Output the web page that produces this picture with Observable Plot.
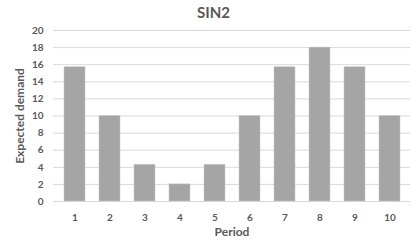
<!DOCTYPE html>
<html><head><meta charset="utf-8">
<script src="https://cdn.jsdelivr.net/npm/d3@7"></script>
<script src="https://cdn.jsdelivr.net/npm/@observablehq/plot@0.6"></script>
<style>
body{margin:0;background:#fff;font-family:Lato,sans-serif;}
#title{height:22px;line-height:24px;font-size:15px;font-weight:bold;color:#595959;text-align:center;width:415px;padding-left:12px;box-sizing:border-box;}
</style></head>
<body>
<div id="title">SIN2</div>
<div id="chart"></div>
<script>
const periods = [1,2,3,4,5,6,7,8,9,10];
const demand = [15.7,10,4.3,2,4.3,10,15.7,18,15.7,10];
const yTicks = [0,2,4,6,8,10,12,14,16,18,20];
const data = periods.map((p,i)=>({period:p, demand:demand[i]}));
const chart = Plot.plot({
  width:415, height:221,
  marginLeft:53, marginRight:5, marginTop:8, marginBottom:42,
  style:{fontFamily:"Lato, sans-serif", fontWeight:"bold", color:"#595959", fontSize:"10px"},
  x:{domain:periods, paddingInner:0.4, paddingOuter:0.2},
  y:{domain:[0,20]},
  marks:[
    Plot.gridY(yTicks,{stroke:"#d9d9d9", strokeOpacity:1, strokeWidth:1}),
    Plot.barY(data,{x:"period", y:"demand", fill:"#a5a5a5", stroke:"#c8c8c8", strokeWidth:0.5}),
    Plot.axisY({ticks:yTicks, tickSize:0, tickPadding:10, label:"Expected demand", labelAnchor:"center", labelArrow:"none", labelOffset:38, fontSize:10}),
    Plot.axisX({tickSize:0, tickPadding:12, label:"Period", labelAnchor:"center", labelArrow:"none", labelOffset:34}),
  ]
});
chart.querySelectorAll('[aria-label="y-axis label"] text, [aria-label="x-axis label"] text').forEach(t=>t.setAttribute("font-size","12px"));
document.getElementById("chart").appendChild(chart);
</script>
</body></html>
